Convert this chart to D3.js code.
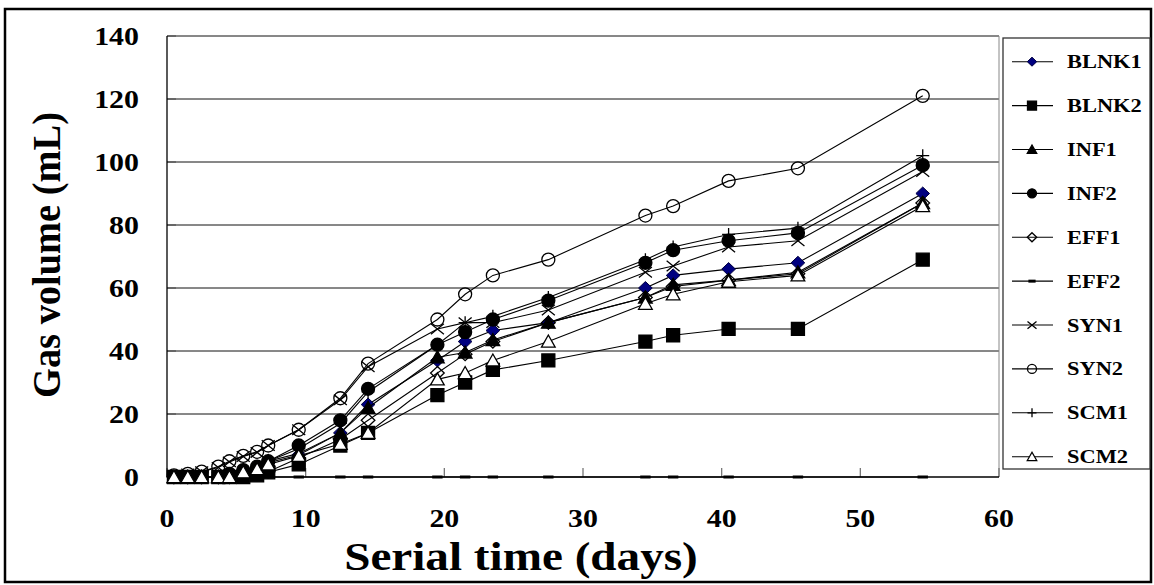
<!DOCTYPE html>
<html><head><meta charset="utf-8">
<script src="https://cdn.jsdelivr.net/npm/d3@7"></script>
<style>body{margin:0;background:#fff}svg{display:block}</style>
</head><body>
<svg id="chart" width="1154" height="585"></svg>
<script>
// ---- data ----
const days  = [0.5,1.5,2.5,3.7,4.5,5.5,6.5,7.3,9.5,12.5,14.5,19.5,21.5,23.5,27.5,34.5,36.5,40.5,45.5,54.5];
const BLNK1 = [0,0,0,0,0.5,1.5,3,4.5,7,14,23,37,43,46.5,49,60,64,66,68,90];
const BLNK2 = [0,0,0,0,0,0,0.5,1.5,4,10,14,26,30,34,37,43,45,47,47,69];
const INF1  = [0,0,0,0,0.5,2,3,5,7.5,14,22,38,39.5,43.5,49,57,61,62.5,65,87];
const INF2  = [0,0,0,0,1,2.2,3.3,5,10,18,28,42,46,50,56,68,72,75,77.5,99];
const EFF1  = [0,0,0,0,0,0.5,1,1.7,6,12,18,33,39,43,49,57,60.5,62.5,64.5,87];
const EFF2  = [0,0,0,0,0,0,0,0,0,0,0,0,0,0,0,0,0,0,0,0];
const SYN1  = [0.5,1,1.7,3,4.8,6.5,7.8,10,15,24.5,35,47,49,49,53,65,67,73,75,97];
const SYN2  = [0.5,1,1.7,3.3,5,6.7,8,10,15,25,36,50,58,64,69,83,86,94,98,121];
const SCM1  = [0,0,0,0,0.5,2,3,5,9,17,27,42,49,51,57,69,73,77,79,102];
const SCM2  = [0,0,0,0,0,1.5,2.5,4,6.7,10.5,14,31,33,37,43,55,58,62,64,86];
const seriesNames = ["BLNK1","BLNK2","INF1","INF2","EFF1","EFF2","SYN1","SYN2","SCM1","SCM2"];
const seriesValues = [BLNK1,BLNK2,INF1,INF2,EFF1,EFF2,SYN1,SYN2,SCM1,SCM2];
const seriesMarkers = ["diamond","square","triangle","circle","diamond","dash","x","circle","plus","triangle"];
const seriesFills = ["#000080","#000","#000","#000","none","#000","none","none","none","#fff"];
const xTicks = [0,10,20,30,40,50,60];
const yTicks = [0,20,40,60,80,100,120,140];
const xTitle = "Serial time (days)";
const yTitle = "Gas volume (mL)";

// ---- layout ----
const svg = d3.select("#chart");
const FONT = "'Liberation Serif','Times New Roman',Times,serif";
const x = d3.scaleLinear().domain([0,60]).range([167,999]);
const y = d3.scaleLinear().domain([0,140]).range([477,36]);

// outer frame
svg.append("rect").attr("x",5).attr("y",9).attr("width",1146).attr("height",573)
  .attr("fill","none").attr("stroke","#000").attr("stroke-width",2.5);

// gridlines
svg.append("g").selectAll("line").data(yTicks.filter(d=>d>0)).join("line")
  .attr("x1",x(0)).attr("x2",x(60)).attr("y1",d=>y(d)).attr("y2",d=>y(d))
  .attr("stroke","#111").attr("stroke-width",1);
// right border of plot
svg.append("line").attr("x1",x(60)).attr("x2",x(60)).attr("y1",y(140)).attr("y2",y(0))
  .attr("stroke","#888").attr("stroke-width",1);
// y ticks (inside)
svg.append("g").selectAll("line").data(yTicks).join("line")
  .attr("x1",x(0)).attr("x2",x(0)+9).attr("y1",d=>y(d)).attr("y2",d=>y(d))
  .attr("stroke","#555").attr("stroke-width",1.3);
// x ticks (inside)
svg.append("g").selectAll("line").data(xTicks).join("line")
  .attr("x1",d=>x(d)).attr("x2",d=>x(d)).attr("y1",y(0)).attr("y2",y(0)-9)
  .attr("stroke","#777").attr("stroke-width",1.3);
// axis lines
svg.append("line").attr("x1",x(0)).attr("x2",x(0)).attr("y1",y(140)).attr("y2",y(0))
  .attr("stroke","#000").attr("stroke-width",1.3);
svg.append("line").attr("x1",x(0)).attr("x2",x(60)).attr("y1",y(0)).attr("y2",y(0))
  .attr("stroke","#000").attr("stroke-width",1.5);

function stext(g, tx, ty, txt, size, sx, anchor) {
  return g.append("text").attr("transform",`translate(${tx},${ty}) scale(${sx},1)`)
    .attr("text-anchor",anchor).attr("font-family",FONT).attr("font-weight","bold")
    .attr("font-size",size).attr("fill","#000").text(txt);
}
// y tick labels
const gl = svg.append("g");
yTicks.forEach(t => stext(gl, 139, y(t)+9, String(t), 26, 1.15, "end"));
// x tick labels
xTicks.forEach(t => stext(gl, x(t), 527, String(t), 26, 1.15, "middle"));
// x title
stext(gl, 521, 570, xTitle, 39, 1.21, "middle");
// y title
svg.append("text").attr("transform","translate(60,255) rotate(-90)")
  .attr("text-anchor","middle").attr("font-family",FONT).attr("font-weight","bold")
  .attr("font-size",39).attr("textLength",286).attr("lengthAdjust","spacingAndGlyphs")
  .text(yTitle);

// marker shapes
function markerPath(type, s) {
  const h = s/2;
  switch(type){
    case "diamond": return `M0,${-h}L${h*1.05},0L0,${h}L${-h*1.05},0Z`;
    case "square": return `M${-h},${-h}H${h}V${h}H${-h}Z`;
    case "triangle": return `M0,${-h}L${h*1.05},${h*0.85}L${-h*1.05},${h*0.85}Z`;
    case "circle": return `M${h},0A${h},${h} 0 1,1 ${-h},0A${h},${h} 0 1,1 ${h},0Z`;
    case "x": return `M${-h},${-h*0.8}L${h},${h*0.8}M${-h},${h*0.8}L${h},${-h*0.8}`;
    case "plus": return `M${-h},0H${h}M0,${-h}V${h}`;
    case "dash": return `M${-h*0.8},-1.5H${h*0.8}V1.5H${-h*0.8}Z`;
  }
}
function drawMarker(g, type, fill, cx, cy, s) {
  const p = g.append("path").attr("d", markerPath(type,s)).attr("transform",`translate(${cx},${cy})`);
  if (type==="x"||type==="plus") p.attr("fill","none").attr("stroke","#000").attr("stroke-width",1.3);
  else if (type==="dash") p.attr("fill","#000").attr("stroke","none");
  else if (fill==="#000080") p.attr("fill",fill).attr("stroke","#000040").attr("stroke-width",1);
  else p.attr("fill",fill).attr("stroke","#000").attr("stroke-width",1.3);
}

// series
const line = d3.line().x(d=>x(d[0])).y(d=>y(d[1]));
seriesNames.forEach((name,i)=>{
  const pts = days.map((d,j)=>[d, seriesValues[i][j]]);
  const g = svg.append("g");
  g.append("path").attr("d", line(pts)).attr("fill","none").attr("stroke","#000").attr("stroke-width",1.1);
  pts.forEach(p => drawMarker(g, seriesMarkers[i], seriesFills[i], x(p[0]), y(p[1]), 13));
});

// legend
const lg = svg.append("g");
lg.append("rect").attr("x",1003).attr("y",38).attr("width",147).attr("height",431)
  .attr("fill","#fff").attr("stroke","#333").attr("stroke-width",1.3);
const legY = d3.scaleLinear().domain([0,9]).range([61.7,456.7]);
seriesNames.forEach((name,i)=>{
  const ly = legY(i);
  lg.append("line").attr("x1",1012).attr("x2",1053).attr("y1",ly).attr("y2",ly)
    .attr("stroke","#000").attr("stroke-width",1.1);
  drawMarker(lg, seriesMarkers[i], seriesFills[i], 1032, ly, 9);
  stext(lg, 1067, ly+6.5, name, 19, 1.18, "start");
});
</script>
</body></html>
